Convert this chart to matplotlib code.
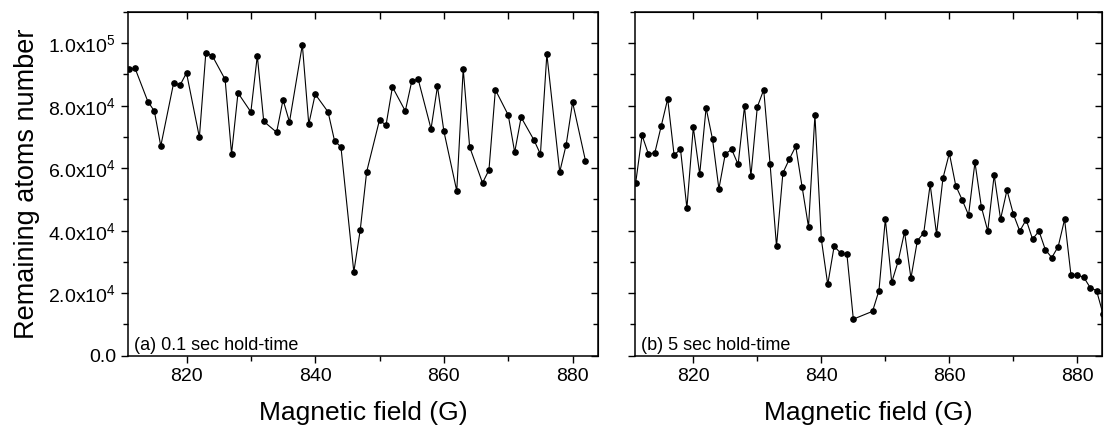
import matplotlib
matplotlib.use("Agg")
import matplotlib.pyplot as plt
from matplotlib.ticker import MultipleLocator, FuncFormatter

plt.rcParams['font.family'] = ['Liberation Sans', 'DejaVu Sans']
plt.rcParams['mathtext.fontset'] = 'custom'
plt.rcParams['mathtext.rm'] = 'Liberation Sans'
plt.rcParams['mathtext.it'] = 'Liberation Sans:italic'

# (a) 0.1 sec hold-time
field_a = [811, 812, 814, 815, 816, 818, 819, 820, 822, 823, 824, 826, 827, 828,
           830, 831, 832, 834, 835, 836, 838, 839, 840, 842, 843, 844, 846, 847, 848,
           850, 851, 852, 854, 855, 856, 858, 859, 860, 862, 863, 864, 866, 867, 868,
           870, 871, 872, 874, 875, 876, 878, 879, 880, 882]
atoms_a = [91600, 92000, 81300, 78300, 67100, 87300, 86600, 90500, 69900, 96900,
           96000, 88400, 64600, 84100, 78000, 96000, 75000, 71500, 81900, 74800,
           99500, 74100, 83700, 78000, 68800, 66800, 26800, 40300, 58900,
           75500, 73700, 86000, 78300, 87800, 88500, 72600, 86200, 71800, 52700,
           91800, 66800, 55300, 59400, 85100, 77000, 65100, 76300, 69000, 64500,
           96500, 58800, 67500, 81100, 62400]

# (b) 5 sec hold-time
field_b = [811, 812, 813, 814, 815, 816, 817, 818, 819, 820, 821, 822, 823, 824,
           825, 826, 827, 828, 829, 830, 831, 832, 833, 834, 835, 836, 837, 838,
           839, 840, 841, 842, 843, 844, 845, 848, 849, 850, 851, 852, 853, 854,
           855, 856, 857, 858, 859, 860, 861, 862, 863, 864, 865, 866, 867, 868,
           869, 870, 871, 872, 873, 874, 875, 876, 877, 878, 879, 880, 881, 882,
           883, 884]
atoms_b = [55300, 70500, 64500, 65000, 73600, 82200, 64200, 66100, 47200, 73100,
           58100, 79300, 69300, 53400, 64600, 66000, 61200, 79800, 57500, 79600,
           85100, 61200, 35000, 58500, 62900, 67000, 54000, 41200, 77000, 37300,
           22800, 35000, 32900, 32400, 11700, 14200, 20800, 43700, 23500, 30200,
           39600, 24800, 36800, 39300, 54800, 38900, 56800, 64800, 54400, 49900,
           45000, 61900, 47600, 39900, 57800, 43700, 53000, 45300, 39900, 43500,
           37300, 39900, 33900, 31400, 34900, 43600, 25800, 25800, 25100, 21800,
           20800, 13400]

panels = [(field_a, atoms_a, '(a) 0.1 sec hold-time'),
          (field_b, atoms_b, '(b) 5 sec hold-time')]


def sci_fmt(v, pos):
    if v == 0:
        return '0.0'
    exp = 0
    m = v
    while abs(m) >= 10:
        m /= 10.0
        exp += 1
    return '%.1fx10$^{%d}$' % (m, exp)


fig = plt.figure(figsize=(11.05, 4.34), dpi=100)
boxes = [[0.1158, 0.1804, 0.4251, 0.792], [0.5747, 0.1804, 0.4229, 0.792]]

for i, (x, y, note) in enumerate(panels):
    ax = fig.add_axes(boxes[i])
    ax.plot(x, y, color='black', lw=0.8, marker='o', ms=3.8)
    ax.set_xlim(810.9, 883.9)
    ax.set_ylim(0, 1.1e5)
    ax.xaxis.set_major_locator(MultipleLocator(20))
    ax.xaxis.set_minor_locator(MultipleLocator(10))
    ax.yaxis.set_major_locator(MultipleLocator(2e4))
    ax.yaxis.set_minor_locator(MultipleLocator(1e4))
    ax.yaxis.set_major_formatter(FuncFormatter(sci_fmt))
    for side in ['left', 'right', 'top', 'bottom']:
        ax.spines[side].set_linewidth(1.1)
    # outward on bottom/left, inward on top/right
    ax.tick_params(which='both', direction='out', top=False, right=False, width=1.0)
    ax.tick_params(which='major', length=5, labelsize=14)
    ax.tick_params(which='minor', length=3.5)
    sec_x = ax.secondary_xaxis('top')
    sec_x.xaxis.set_major_locator(MultipleLocator(10))
    sec_x.tick_params(direction='in', length=5, width=1.0, labeltop=False)
    sec_y = ax.secondary_yaxis('right')
    sec_y.yaxis.set_major_locator(MultipleLocator(2e4))
    sec_y.yaxis.set_minor_locator(MultipleLocator(1e4))
    sec_y.tick_params(which='major', direction='in', length=5, width=1.0, labelright=False)
    sec_y.tick_params(which='minor', direction='in', length=3.5, width=1.0)
    ax.set_xlabel('Magnetic field (G)', fontsize=19, labelpad=12)
    if i == 0:
        ax.set_ylabel('Remaining atoms number', fontsize=19.5, labelpad=6)
    else:
        ax.tick_params(axis='y', labelleft=False)
    ax.text(0.012, 0.004, note, transform=ax.transAxes, fontsize=13,
            ha='left', va='bottom')

fig.savefig('out.png', dpi=100)
